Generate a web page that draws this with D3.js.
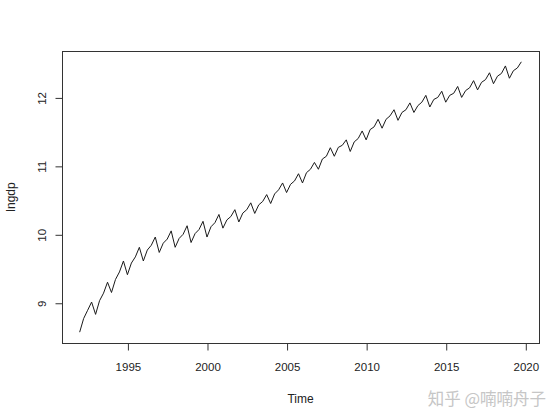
<!DOCTYPE html>
<html>
<head>
<meta charset="utf-8">
<script src="https://cdn.jsdelivr.net/npm/d3@7"></script>
<style>
  html, body { margin: 0; padding: 0; background: #fff; }
  svg { display: block; }
  text { font-family: "Liberation Sans", Arial, sans-serif; fill: #222; }
</style>
</head>
<body>
<svg id="chart" width="560" height="417"></svg>
<script>
// Quarterly series, 1992 Q1 .. 2019 Q4 (frequency 4)
const startYear = 1992;
const frequency = 4;
const lngdp = [
  8.57, 8.77, 8.89, 9.01,
  8.83, 9.03, 9.14, 9.30,
  9.15, 9.34, 9.45, 9.61,
  9.41, 9.58, 9.67, 9.81,
  9.61, 9.77, 9.84, 9.96,
  9.735, 9.87, 9.93, 10.05,
  9.81, 9.94, 10.00, 10.125,
  9.88, 10.01, 10.07, 10.19,
  9.96, 10.11, 10.17, 10.29,
  10.09, 10.21, 10.26, 10.36,
  10.18, 10.31, 10.36, 10.46,
  10.305, 10.43, 10.48, 10.58,
  10.45, 10.59, 10.65, 10.75,
  10.61, 10.73, 10.78, 10.885,
  10.75, 10.90, 10.95, 11.05,
  10.95, 11.10, 11.14, 11.265,
  11.14, 11.27, 11.30, 11.38,
  11.21, 11.35, 11.40, 11.51,
  11.38, 11.53, 11.57, 11.68,
  11.55, 11.68, 11.73, 11.82,
  11.665, 11.78, 11.82, 11.92,
  11.78, 11.88, 11.93, 12.03,
  11.86, 11.97, 12.00, 12.09,
  11.93, 12.03, 12.06, 12.16,
  12.00, 12.10, 12.14, 12.245,
  12.11, 12.22, 12.26, 12.36,
  12.20, 12.31, 12.35, 12.46,
  12.28, 12.39, 12.43, 12.52
];
const xTickValues = [1995, 2000, 2005, 2010, 2015, 2020];
const yTickValues = [9, 10, 11, 12];
const xLabel = "Time";
const yLabel = "lngdp";
const watermark = "知乎 @喃喃舟子";

const series = lngdp.map((v, i) => ({ t: startYear + i / frequency, v }));

const box = { left: 62, right: 539, top: 51, bottom: 343 };
const svg = d3.select("#chart");

// R-style 4% axis extension
const tExt = d3.extent(series, d => d.t);
const vExt = d3.extent(series, d => d.v);
const tPad = (tExt[1] - tExt[0]) * 0.04;
const vPad = (vExt[1] - vExt[0]) * 0.04;

const x = d3.scaleLinear().domain([tExt[0] - tPad, tExt[1] + tPad]).range([box.left, box.right]);
const y = d3.scaleLinear().domain([vExt[0] - vPad, vExt[1] + vPad]).range([box.bottom, box.top]);

// series line
svg.append("path")
  .datum(series)
  .attr("fill", "none")
  .attr("stroke", "#1a1a1a")
  .attr("stroke-width", 1)
  .attr("stroke-linejoin", "miter")
  .attr("d", d3.line().x(d => x(d.t)).y(d => y(d.v)));

// box
svg.append("rect")
  .attr("x", box.left + 0.5).attr("y", box.top + 0.5)
  .attr("width", box.right - box.left).attr("height", box.bottom - box.top)
  .attr("fill", "none").attr("stroke", "#333").attr("stroke-width", 1);

// x axis
const xAxis = svg.append("g")
  .attr("transform", `translate(0.5,${box.bottom + 0.5})`)
  .call(d3.axisBottom(x).tickValues(xTickValues).tickFormat(d3.format("d"))
    .tickSize(7).tickSizeOuter(0).tickPadding(12));
xAxis.select(".domain").remove();
xAxis.append("line")
  .attr("x1", x(xTickValues[0])).attr("x2", x(xTickValues[xTickValues.length - 1]))
  .attr("stroke", "#333");
xAxis.selectAll(".tick line").attr("stroke", "#333");
xAxis.selectAll("text").attr("font-size", 11.5).attr("fill", "#222")
  .style("font-family", '"Liberation Sans", Arial, sans-serif');

// y axis
const yAxis = svg.append("g")
  .attr("transform", `translate(${box.left + 0.5},0.5)`)
  .call(d3.axisLeft(y).tickValues(yTickValues).tickFormat(d3.format("d"))
    .tickSize(7).tickSizeOuter(0));
yAxis.select(".domain").remove();
yAxis.append("line")
  .attr("y1", y(yTickValues[0])).attr("y2", y(yTickValues[yTickValues.length - 1]))
  .attr("stroke", "#333");
yAxis.selectAll(".tick line").attr("stroke", "#333");
yAxis.selectAll(".tick text")
  .attr("x", null).attr("dy", null)
  .attr("transform", "translate(-21,0) rotate(-90)")
  .attr("text-anchor", "middle")
  .attr("dominant-baseline", "central")
  .attr("font-size", 11.5).attr("fill", "#222")
  .style("font-family", '"Liberation Sans", Arial, sans-serif');

// axis titles
svg.append("text")
  .attr("x", (box.left + box.right) / 2).attr("y", 399)
  .attr("text-anchor", "middle").attr("dominant-baseline", "central")
  .attr("font-size", 12).text(xLabel);

svg.append("text")
  .attr("transform", `translate(11,${(box.top + box.bottom) / 2}) rotate(-90)`)
  .attr("text-anchor", "middle").attr("dominant-baseline", "central")
  .attr("font-size", 12).text(yLabel);

// watermark
svg.append("text")
  .attr("x", 546).attr("y", 398)
  .attr("text-anchor", "end").attr("dominant-baseline", "central")
  .attr("font-size", 16.5)
  .style("font-family", '"Noto Sans CJK SC", sans-serif')
  .style("fill", "#c6c6c6")
  .text(watermark);
</script>
</body>
</html>
